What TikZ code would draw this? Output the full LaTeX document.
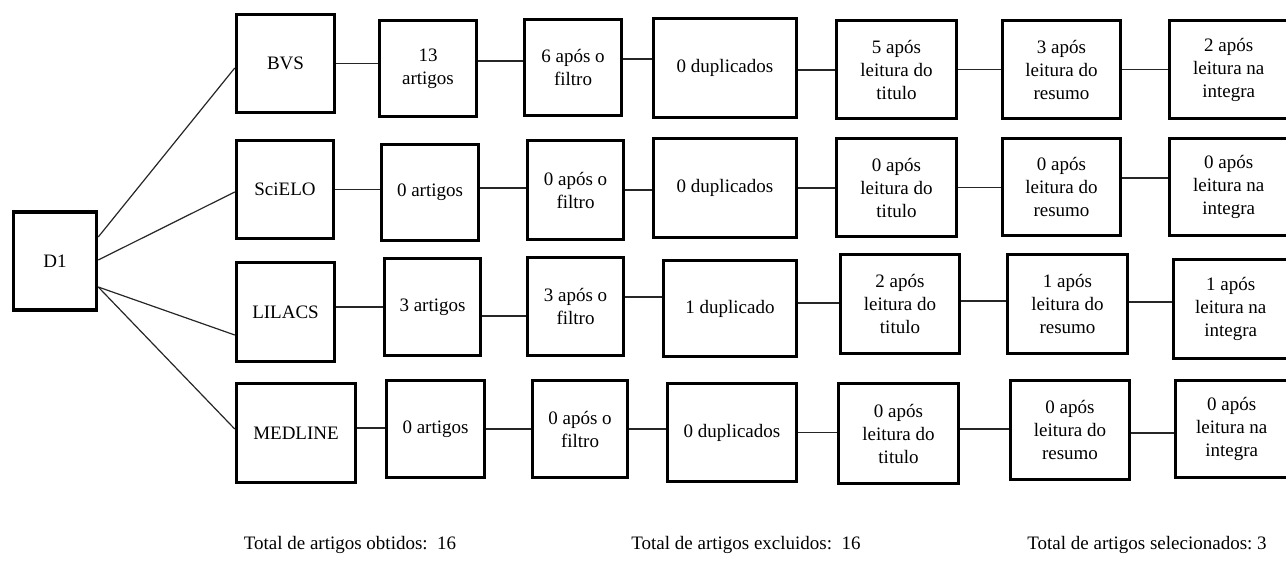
\documentclass[tikz,border=0pt]{standalone}
\usepackage{fontspec}
\setmainfont{Liberation Serif}

\begin{document}
\begin{tikzpicture}
[
x=1pt,y=-1pt,
box/.style 2 args={draw=black,line width=3.5pt,align=center,inner sep=2pt,
minimum width=#1,minimum height=#2,font=\fontsize{19}{23}\selectfont},
link/.style={line width=1.2pt,black!85},
total/.style={font=\fontsize{19}{23}\selectfont}
]
\useasboundingbox (0,0) rectangle (1286,561);

\node[box={83}{98}] (D1) at (55,261){D1};

% bases
\node[box={98}{98}] (BVS) at (285.5,63.5){BVS};
\node[box={97}{98}] (SciELO) at (285,189.5){SciELO};
\node[box={98}{99}] (LILACS) at (285.5,312){LILACS};
\node[box={119}{99}] (MEDLINE) at (296,433){MEDLINE};

% artigos encontrados
\node[box={97}{96}] (art1) at (428,68.5){13\\artigos};
\node[box={97}{96}] (art2) at (430,192.5){0 artigos};
\node[box={96}{97}] (art3) at (432.5,307){3 artigos};
\node[box={98}{97}] (art4) at (435.5,429){0 artigos};

% filtro
\node[box={97}{96}] (fil1) at (573,67.5){6 após o\\filtro};
\node[box={96}{99}] (fil2) at (575.5,190){0 após o\\filtro};
\node[box={96}{98}] (fil3) at (575.5,306.5){3 após o\\filtro};
\node[box={95}{97}] (fil4) at (580,429){0 após o\\filtro};

% duplicados
\node[box={143}{99}] (dup1) at (725,68){0 duplicados};
\node[box={143}{99}] (dup2) at (725,188){0 duplicados};
\node[box={133}{96}] (dup3) at (730,308.5){1 duplicado};
\node[box={129}{98}] (dup4) at (732,432.5){0 duplicados};

% titulo
\node[box={120}{98}] (tit1) at (896.5,69.5){5 após\\leitura do\\titulo};
\node[box={120}{98}] (tit2) at (896.5,187.5){0 após\\leitura do\\titulo};
\node[box={119}{99}] (tit3) at (900,304){2 após\\leitura do\\titulo};
\node[box={120}{100}] (tit4) at (898.5,433.5){0 após\\leitura do\\titulo};

% resumo
\node[box={118}{98}] (res1) at (1061.5,69.5){3 após\\leitura do\\resumo};
\node[box={118}{97}] (res2) at (1061.5,187){0 após\\leitura do\\resumo};
\node[box={120}{99}] (res3) at (1067.5,304){1 após\\leitura do\\resumo};
\node[box={119}{99}] (res4) at (1070,430){0 após\\leitura do\\resumo};

% integra
\node[box={118.5}{98}] (int1) at (1228.75,69.5){2 após\\leitura na\\integra};
\node[box={118.5}{97}] (int2) at (1228.75,187){0 após\\leitura na\\integra};
\node[box={114.5}{99}] (int3) at (1230.75,309){1 após\\leitura na\\integra};
\node[box={112.5}{97}] (int4) at (1231.75,429){0 após\\leitura na\\integra};

% totais
\node[total] (obtidos) at (350,545){Total de artigos obtidos:\ \ 16};
\node[total] (excluidos) at (746,545){Total de artigos excluidos:\ \ 16};
\node[total] (selecionados) at (1147,545){Total de artigos selecionados:\ 3};

% D1 para as bases
\draw[link] ([yshift=24pt]D1.east)--([yshift=-4.5pt]BVS.west);
\draw[link] ([yshift=1pt]D1.east)--([yshift=-2.5pt]SciELO.west);
\draw[link] ([yshift=-26pt]D1.east)--([yshift=-23pt]LILACS.west);
\draw[link] ([yshift=-26pt]D1.east)--([yshift=4pt]MEDLINE.west);

% BVS
\draw[link] (BVS.east)--(BVS.east -| art1.west);
\draw[link] ([yshift=7.5pt]art1.east)--([yshift=7.5pt]art1.east -| fil1.west);
\draw[link] ([yshift=8.5pt]fil1.east)--([yshift=8.5pt]fil1.east -| dup1.west);
\draw[link] ([yshift=-2pt]dup1.east)--([yshift=-2pt]dup1.east -| tit1.west);
\draw[link] (tit1.east)--(tit1.east -| res1.west);
\draw[link] (res1.east)--(res1.east -| int1.west);

% SciELO
\draw[link] (SciELO.east)--(SciELO.east -| art2.west);
\draw[link] ([yshift=4.5pt]art2.east)--([yshift=4.5pt]art2.east -| fil2.west);
\draw[link] (fil2.east)--(fil2.east -| dup2.west);
\draw[link] (dup2.east)--(dup2.east -| tit2.west);
\draw[link] (tit2.east)--(tit2.east -| res2.west);
\draw[link] ([yshift=9pt]res2.east)--([yshift=9pt]res2.east -| int2.west);

% LILACS
\draw[link] ([yshift=5pt]LILACS.east)--([yshift=5pt]LILACS.east -| art3.west);
\draw[link] ([yshift=-9pt]art3.east)--([yshift=-9pt]art3.east -| fil3.west);
\draw[link] ([yshift=9.5pt]fil3.east)--([yshift=9.5pt]fil3.east -| dup3.west);
\draw[link] ([yshift=5.5pt]dup3.east)--([yshift=5.5pt]dup3.east -| tit3.west);
\draw[link] ([yshift=3pt]tit3.east)--([yshift=3pt]tit3.east -| res3.west);
\draw[link] ([yshift=2pt]res3.east)--([yshift=2pt]res3.east -| int3.west);

% MEDLINE
\draw[link] ([yshift=5pt]MEDLINE.east)--([yshift=5pt]MEDLINE.east -| art4.west);
\draw[link] (art4.east)--(art4.east -| fil4.west);
\draw[link] (fil4.east)--(fil4.east -| dup4.west);
\draw[link] (dup4.east)--(dup4.east -| tit4.west);
\draw[link] ([yshift=4.5pt]tit4.east)--([yshift=4.5pt]tit4.east -| res4.west);
\draw[link] ([yshift=-3pt]res4.east)--([yshift=-3pt]res4.east -| int4.west);
\end{tikzpicture}
\end{document}
